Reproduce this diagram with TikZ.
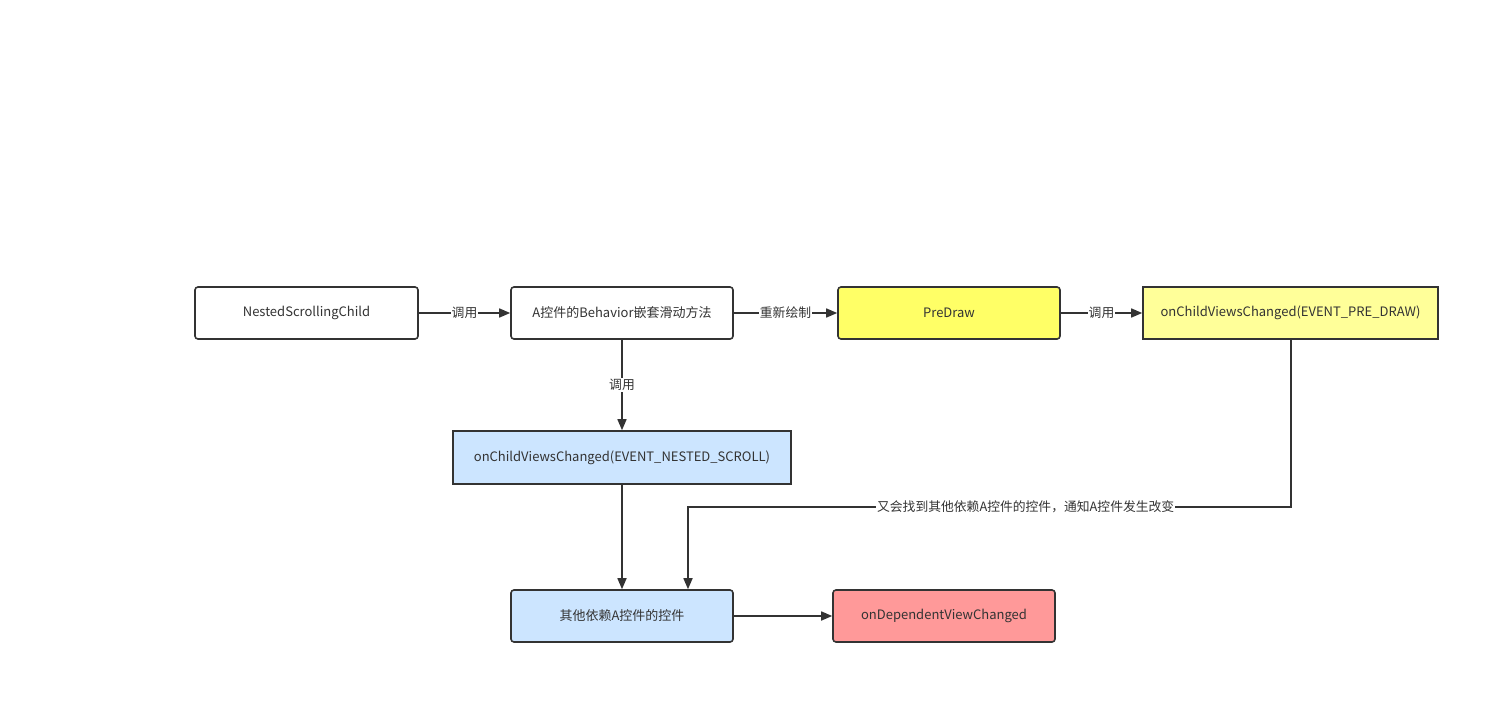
\documentclass[tikz,border=0pt]{standalone}
\usepackage{fontspec}
\setmainfont{Noto Sans CJK SC}
\usetikzlibrary{arrows.meta}
\definecolor{ink}{HTML}{333333}
\definecolor{yel}{HTML}{FFFF66}
\definecolor{ltyel}{HTML}{FFFF99}
\definecolor{ltblue}{HTML}{CCE5FF}
\definecolor{pink}{HTML}{FF9999}
\tikzset{
  box/.style={draw=ink, line width=1.6pt, text=ink, font=\fontsize{13}{15}\selectfont, inner sep=0pt},
  rbox/.style={box, rounded corners=3pt},
  conn/.style={draw=ink, line width=1.6pt, -{Triangle[length=11pt,width=9pt]}},
  lbl/.style={fill=white, text=ink, font=\fontsize{12.8}{14}\selectfont, inner sep=1pt}
}
\begin{document}
\begin{tikzpicture}[x=1pt,y=-1pt]
\useasboundingbox[fill=white] (0,0) rectangle (1500,704);
\node[rbox, fill=white, minimum width=223pt, minimum height=52pt] (nsc) at (306.5,313) {NestedScrollingChild};
\node[rbox, fill=white, minimum width=222pt, minimum height=52pt] (a) at (622,313) {A控件的Behavior嵌套滑动方法};
\node[rbox, fill=yel, minimum width=222pt, minimum height=52pt] (pd) at (949,313) {PreDraw};
\node[box, fill=ltyel, minimum width=295pt, minimum height=52pt] (pre) at (1290.5,313) {onChildViewsChanged(EVENT\_PRE\_DRAW)};
\node[box, fill=ltblue, minimum width=338pt, minimum height=53pt] (nest) at (622,457.5) {onChildViewsChanged(EVENT\_NESTED\_SCROLL)};
\node[rbox, fill=ltblue, minimum width=222pt, minimum height=52pt] (oth) at (622,616) {其他依赖A控件的控件};
\node[rbox, fill=pink, minimum width=222pt, minimum height=52pt] (dep) at (944,616) {onDependentViewChanged};
\coordinate (c1) at (1291,507);
\coordinate (c2) at (688,507);
\draw[conn] (nsc) -- node[lbl] {调用} (a);
\draw[conn] (a) -- node[lbl] {重新绘制} (pd);
\draw[conn] (pd) -- node[lbl] {调用} (pre);
\draw[conn] (a) -- node[lbl, pos=0.5] {调用} (nest);
\draw[conn] (nest) -- (oth);
\draw[conn] (pre.south -| c1) -- (c1) -- node[lbl, pos=0.44] {又会找到其他依赖A控件的控件，通知A控件发生改变} (c2) -- (oth.north -| c2);
\draw[conn] (oth) -- (dep);
\end{tikzpicture}
\end{document}
